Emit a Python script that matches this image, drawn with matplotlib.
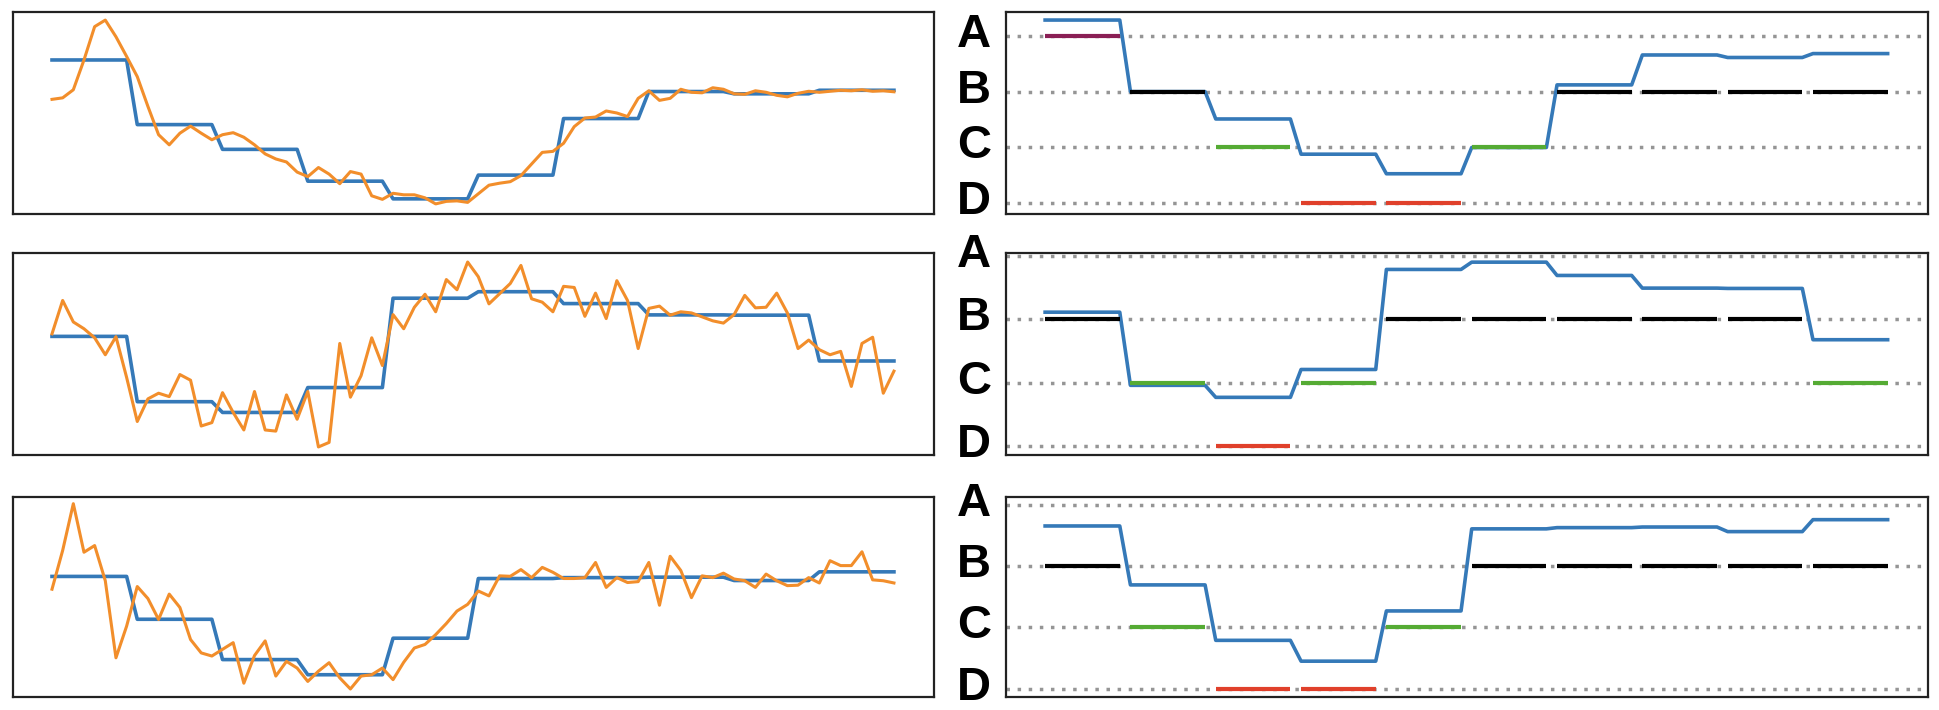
import numpy as np
import matplotlib
matplotlib.use("Agg")
import matplotlib.pyplot as plt
import matplotlib.transforms as mtransforms

# step values of each of the 10 segments (8 samples per segment)
blue1 = [3.28, 2.0, 1.51, 0.88, 0.53, 1.0, 2.12, 2.655, 2.61, 2.68]
blue2 = [2.115, 0.96, 0.77, 1.21, 2.79, 2.905, 2.695, 2.495, 2.49, 1.68]
blue3 = [2.657, 1.695, 0.79, 0.45, 1.27, 2.61, 2.63, 2.64, 2.565, 2.76]

# noisy samples (orange)
orange1 = [2.50, 2.53, 2.69, 3.28, 3.94, 4.07, 3.74, 3.35, 2.95, 2.36,
           1.80, 1.60, 1.83, 1.97, 1.83, 1.70, 1.80, 1.84, 1.75, 1.60,
           1.42, 1.32, 1.26, 1.06, 0.97, 1.15, 1.02, 0.83, 1.07, 1.02,
           0.59, 0.52, 0.64, 0.61, 0.61, 0.55, 0.43, 0.48, 0.49, 0.46,
           0.63, 0.80, 0.84, 0.87, 0.99, 1.22, 1.45, 1.47, 1.63, 1.96,
           2.13, 2.15, 2.27, 2.23, 2.16, 2.52, 2.67, 2.48, 2.52, 2.70,
           2.64, 2.63, 2.73, 2.70, 2.61, 2.60, 2.67, 2.64, 2.58, 2.55,
           2.62, 2.66, 2.64, 2.66, 2.68, 2.67, 2.69, 2.66, 2.67, 2.65]
orange2 = [2.16, 2.75, 2.37, 2.25, 2.09, 1.79, 2.11, 1.39, 0.61, 1.01,
           1.11, 1.05, 1.44, 1.34, 0.53, 0.59, 1.12, 0.77, 0.46, 1.14,
           0.46, 0.44, 1.08, 0.65, 1.14, 0.16, 0.24, 1.99, 1.04, 1.42,
           2.09, 1.60, 2.50, 2.25, 2.63, 2.86, 2.55, 3.12, 2.94, 3.43,
           3.17, 2.69, 2.87, 3.05, 3.37, 2.78, 2.72, 2.55, 3.00, 2.98,
           2.47, 2.88, 2.43, 3.10, 2.75, 1.90, 2.61, 2.65, 2.49, 2.55,
           2.53, 2.46, 2.39, 2.35, 2.50, 2.84, 2.62, 2.63, 2.88, 2.53,
           1.90, 2.05, 1.88, 1.79, 1.85, 1.23, 1.99, 2.10, 1.11, 1.50]
orange3 = [2.37, 3.24, 4.29, 3.20, 3.35, 2.56, 0.83, 1.54, 2.43, 2.16,
           1.69, 2.26, 1.96, 1.24, 0.94, 0.87, 1.02, 1.17, 0.26, 0.88,
           1.21, 0.42, 0.75, 0.60, 0.30, 0.53, 0.72, 0.38, 0.13, 0.42,
           0.45, 0.60, 0.34, 0.73, 1.05, 1.13, 1.35, 1.60, 1.88, 2.03,
           2.33, 2.22, 2.67, 2.66, 2.81, 2.63, 2.86, 2.75, 2.61, 2.61,
           2.63, 2.97, 2.41, 2.63, 2.52, 2.54, 2.97, 2.01, 3.11, 2.79,
           2.18, 2.67, 2.63, 2.73, 2.60, 2.56, 2.41, 2.71, 2.56, 2.45,
           2.46, 2.63, 2.51, 3.01, 2.90, 2.90, 3.21, 2.58, 2.56, 2.51]

# class of each segment
classes1 = ['A', 'B', 'C', 'D', 'D', 'C', 'B', 'B', 'B', 'B']
classes2 = ['B', 'C', 'D', 'C', 'B', 'B', 'B', 'B', 'B', 'C']
classes3 = ['B', 'C', 'D', 'D', 'C', 'B', 'B', 'B', 'B', 'B']

level_names = ['D', 'C', 'B', 'A']

seg_len = 8
blue_c = '#3579b8'
orange_c = '#f28e2b'
class_colors = {'A': '#8a1f55', 'B': '#000000', 'C': '#55ab34', 'D': '#e0402b'}

rows = [
    (blue1, orange1, classes1, (0.23, 4.23), (-0.19, 3.424)),
    (blue2, orange2, classes2, (0.018, 3.59), (-0.14, 3.05)),
    (blue3, orange3, classes3, (-0.05, 4.44), (-0.135, 3.13)),
]
row_boxes = [(0.6986, 0.2845), (0.3592, 0.2845), (0.0183, 0.2817)]

fig = plt.figure(figsize=(19.4, 7.1), dpi=100)

for (blue, orange, classes, ylim_l, ylim_r), (bot, h) in zip(rows, row_boxes):
    step = np.repeat(blue, seg_len)
    idx = np.arange(len(step))

    # left: step vs noisy
    axl = fig.add_axes([0.0067, bot, 0.4747, h])
    axl.plot(idx, step, color=blue_c, lw=2.6)
    axl.plot(np.arange(len(orange)), orange, color=orange_c, lw=2.2)
    axl.set_xlim(-3.66, 82.75)
    axl.set_ylim(*ylim_l)

    # right: step vs class levels
    axr = fig.add_axes([0.5186, bot, 0.4753, h])
    for lv in range(4):
        axr.axhline(lv, color='#959595', lw=2.5, ls=(0, (1, 2.2)), zorder=1)
    axr.plot(idx, step, color=blue_c, lw=2.6, zorder=2)
    for i, c in enumerate(classes):
        lv = level_names.index(c)
        axr.plot([i * seg_len, i * seg_len + seg_len - 1], [lv, lv],
                 color=class_colors[c], lw=3.0, solid_capstyle='butt', zorder=3)
    axr.set_xlim(-3.66, 82.8)
    axr.set_ylim(*ylim_r)
    trans = mtransforms.blended_transform_factory(axr.transAxes, axr.transData)
    trans = mtransforms.offset_copy(trans, fig=fig, y=1, units='dots')
    for lv, name in enumerate(level_names):
        axr.text(-0.035, lv, name, transform=trans, ha='center', va='center',
                 fontsize=34, fontweight='bold',
                 family=['Liberation Sans Narrow', 'Liberation Sans', 'DejaVu Sans'])

    for ax in (axl, axr):
        ax.set_xticks([])
        ax.set_yticks([])
        for sp in ax.spines.values():
            sp.set_color('#222222')
            sp.set_linewidth(1.6)

fig.savefig('out.png', dpi=100)
